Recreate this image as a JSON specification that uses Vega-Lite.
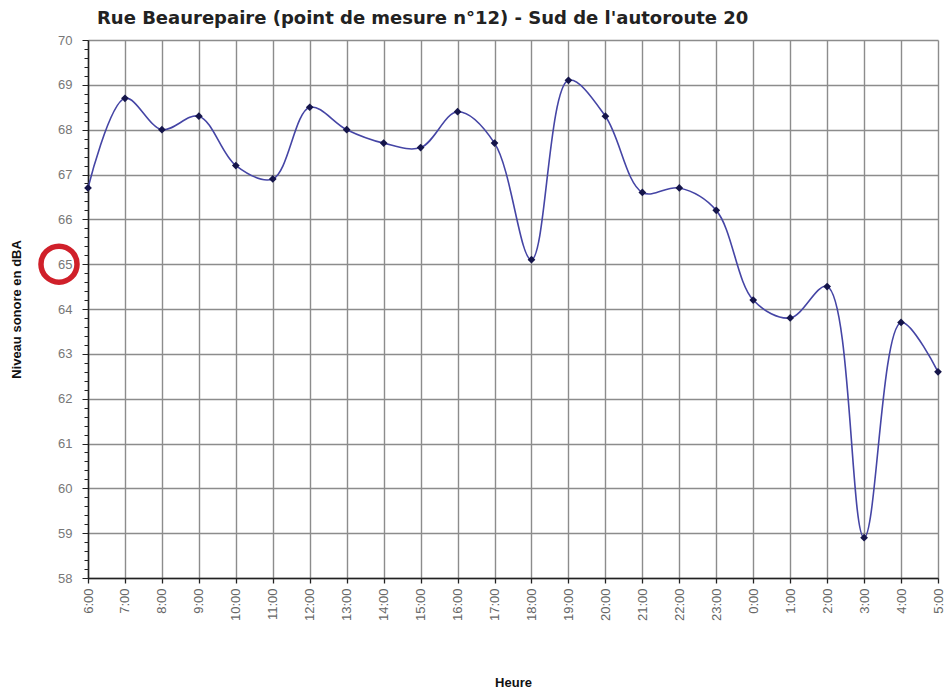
{
  "$schema": "https://vega.github.io/schema/vega-lite/v6.json",
  "autosize": {"type": "none"},
  "padding": {"left": 88, "top": 40, "right": 10, "bottom": 116},
  "width": 850,
  "height": 538,
  "background": "white",
  "title": {
    "text": "Rue Beaurepaire (point de mesure n°12) - Sud de l'autoroute 20",
    "anchor": "start",
    "frame": "group",
    "dx": 9,
    "offset": 6,
    "font": "DejaVu Sans",
    "fontSize": 18,
    "fontWeight": "bold",
    "color": "#222222"
  },
  "config": {
    "view": {"stroke": null},
    "axis": {"labelFont": "Liberation Sans", "titleFont": "Liberation Sans"}
  },
  "datasets": {
    "mesures": [
      {"heure": "6:00", "niveau": 66.7},
      {"heure": "7:00", "niveau": 68.7},
      {"heure": "8:00", "niveau": 68.0},
      {"heure": "9:00", "niveau": 68.3},
      {"heure": "10:00", "niveau": 67.2},
      {"heure": "11:00", "niveau": 66.9},
      {"heure": "12:00", "niveau": 68.5},
      {"heure": "13:00", "niveau": 68.0},
      {"heure": "14:00", "niveau": 67.7},
      {"heure": "15:00", "niveau": 67.6},
      {"heure": "16:00", "niveau": 68.4},
      {"heure": "17:00", "niveau": 67.7},
      {"heure": "18:00", "niveau": 65.1},
      {"heure": "19:00", "niveau": 69.1},
      {"heure": "20:00", "niveau": 68.3},
      {"heure": "21:00", "niveau": 66.6},
      {"heure": "22:00", "niveau": 66.7},
      {"heure": "23:00", "niveau": 66.2},
      {"heure": "0:00", "niveau": 64.2},
      {"heure": "1:00", "niveau": 63.8},
      {"heure": "2:00", "niveau": 64.5},
      {"heure": "3:00", "niveau": 58.9},
      {"heure": "4:00", "niveau": 63.7},
      {"heure": "5:00", "niveau": 62.6}
    ],
    "annotation": [
      {"heure": "6:00", "niveau": 65}
    ]
  },
  "layer": [
    {
      "data": {"name": "mesures"},
      "mark": {"type": "line", "interpolate": "catmull-rom", "color": "#4545a5", "strokeWidth": 1.6},
      "encoding": {
        "x": {
          "field": "heure", "type": "ordinal", "sort": null,
          "scale": {"type": "point", "padding": 0},
          "axis": {
            "title": "Heure",
            "titleFontSize": 13,
            "titleFontWeight": "bold",
            "titleColor": "#111111",
            "titlePadding": 56,
            "labelAngle": -90,
            "labelAlign": "right",
            "labelBaseline": "middle",
            "labelFontSize": 13,
            "labelColor": "#666666",
            "labelPadding": 5,
            "domainColor": "#222222",
            "domainWidth": 1.5,
            "tickColor": "#222222",
            "tickSize": 5,
            "tickWidth": 1.3,
            "grid": true,
            "gridColor": "#8c8c8c",
            "gridWidth": 1.4
          }
        },
        "y": {
          "field": "niveau", "type": "quantitative",
          "scale": {"domain": [58, 70], "nice": false, "zero": false},
          "axis": {
            "title": "Niveau sonore en dBA",
            "titleFontSize": 13,
            "titleFontWeight": "bold",
            "titleColor": "#111111",
            "titlePadding": 34,
            "tickCount": 200,
            "values": [58,58.2,58.4,58.6,58.8,59,59.2,59.4,59.6,59.8,60,60.2,60.4,60.6,60.8,61,61.2,61.4,61.6,61.8,62,62.2,62.4,62.6,62.8,63,63.2,63.4,63.6,63.8,64,64.2,64.4,64.6,64.8,65,65.2,65.4,65.6,65.8,66,66.2,66.4,66.6,66.8,67,67.2,67.4,67.6,67.8,68,68.2,68.4,68.6,68.8,69,69.2,69.4,69.6,69.8,70],
            "labelOverlap": false,
            "labelExpr": "abs(datum.value - round(datum.value)) < 0.001 ? format(datum.value, 'd') : ''",
            "labelFontSize": 13,
            "labelColor": "#777777",
            "labelPadding": 10,
            "domainColor": "#222222",
            "domainWidth": 1.5,
            "tickColor": "#222222",
            "tickSize": {"condition": {"test": "abs(datum.value - round(datum.value)) < 0.001", "value": 6}, "value": 4},
            "tickOffset": 0,
            "tickWidth": 1,
            "grid": true,
            "gridColor": "#8c8c8c",
            "gridWidth": 1.4,
            "gridOpacity": {"condition": {"test": "abs(datum.value - round(datum.value)) < 0.001", "value": 1}, "value": 0}
          }
        }
      }
    },
    {
      "data": {"name": "mesures"},
      "mark": {"type": "point", "shape": "diamond", "filled": true, "color": "#15154a", "size": 60, "opacity": 1},
      "encoding": {
        "x": {"field": "heure", "type": "ordinal", "sort": null},
        "y": {"field": "niveau", "type": "quantitative"}
      }
    },
    {
      "data": {"name": "annotation"},
      "mark": {"type": "point", "shape": "circle", "filled": false, "stroke": "#d0202a", "strokeWidth": 5.5, "size": 1300, "xOffset": -29, "opacity": 1, "clip": false},
      "encoding": {
        "x": {"field": "heure", "type": "ordinal", "sort": null},
        "y": {"field": "niveau", "type": "quantitative"}
      }
    }
  ]
}
